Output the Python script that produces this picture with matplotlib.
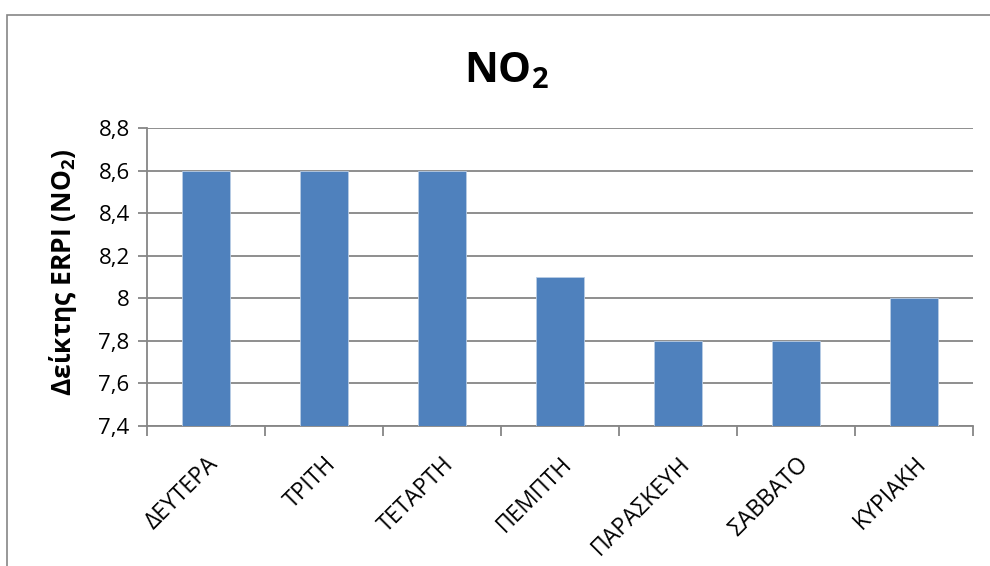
import matplotlib.pyplot as plt
from matplotlib.patches import Rectangle

plt.rcParams['font.family'] = ['Open Sans', 'DejaVu Sans']
plt.rcParams['mathtext.fontset'] = 'custom'
plt.rcParams['mathtext.rm'] = 'Open Sans'
plt.rcParams['mathtext.bf'] = 'Open Sans:bold'

days = ['ΔΕΥΤΕΡΑ', 'ΤΡΙΤΗ', 'ΤΕΤΑΡΤΗ', 'ΠΕΜΠΤΗ', 'ΠΑΡΑΣΚΕΥΗ', 'ΣΑΒΒΑΤΟ', 'ΚΥΡΙΑΚΗ']
erpi = [8.6, 8.6, 8.6, 8.1, 7.8, 7.8, 8.0]
yticks = [7.4, 7.6, 7.8, 8.0, 8.2, 8.4, 8.6, 8.8]
ylabels = ['7,4', '7,6', '7,8', '8', '8,2', '8,4', '8,6', '8,8']

fig = plt.figure(figsize=(9.9, 5.66), dpi=100)
ax = fig.add_axes([147/990, 1-426/566, (973-147)/990, (426-128)/566])

# chart border
fig.add_artist(Rectangle((7/990, -0.1), 1.2, 1-15/566+0.1, transform=fig.transFigure,
                         fill=False, edgecolor='#868686', lw=1.2))

x = list(range(len(days)))
ax.bar(x, erpi, width=0.4, color='#4F81BD', edgecolor='#B9CDE5', lw=0.6, zorder=3)
ax.set_ylim(7.4, 8.8)
ax.set_xlim(-0.5, len(days) - 0.5)
ax.set_yticks(yticks)
ax.set_yticklabels(ylabels, fontsize=16)
ax.yaxis.grid(True, color='#868686', lw=1.3, zorder=0)
ax.set_axisbelow(True)

ax.set_xticks([i - 0.5 for i in range(len(days) + 1)])
ax.set_xticklabels([])
ax.set_xticks(x, minor=True)
ax.set_xticklabels(days, minor=True, rotation=45, ha='right', va='top',
                   rotation_mode='anchor', fontsize=16.5)
ax.tick_params(axis='x', which='minor', length=0, pad=19)
ax.tick_params(axis='x', which='major', length=7, width=1.3, color='#868686')
ax.tick_params(axis='y', length=6.5, width=1.3, color='#868686', pad=6)

for s in ['top', 'right']:
    ax.spines[s].set_visible(False)
for s in ['left', 'bottom']:
    ax.spines[s].set_color('#868686')
    ax.spines[s].set_linewidth(1.3)

fig.text(63/990, 1-272/566, r'Δείκτης ERPI (NO$_\mathbf{2}$)', fontsize=19,
         fontweight='bold', rotation=90, ha='center', va='center')
fig.text(506/990, 1-72/566, r'NO$_\mathbf{2}$', fontsize=30, fontweight='bold',
         ha='center', va='center')

fig.savefig('out.png', dpi=100)
